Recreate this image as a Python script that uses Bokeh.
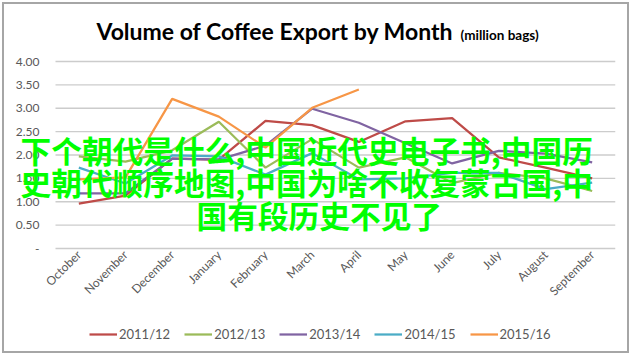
import math
from bokeh.plotting import figure
from bokeh.models import (Range1d, FixedTicker, CustomJSTickFormatter,
                          Label, Legend, LegendItem)
from bokeh.embed import file_html
from bokeh.resources import INLINE

months = ["October", "November", "December", "January", "February", "March",
          "April", "May", "June", "July", "August", "September"]
y_ticks = [0, 0.5, 1.0, 1.5, 2.0, 2.5, 3.0, 3.5, 4.0]

series_names = ["2011/12", "2012/13", "2013/14", "2014/15", "2015/16"]
s_2011_12 = [0.96, 1.13, 1.92, 1.90, 2.73, 2.64, 2.28, 2.72, 2.79, 1.95, 1.73, 1.50]
s_2012_13 = [1.97, 1.86, 2.10, 2.71, 1.73, 2.34, 1.73, 1.95, 1.40, 1.62, 1.50, 1.23]
s_2013_14 = [1.18, 1.18, 1.92, 1.90, 2.20, 2.99, 2.69, 2.25, 1.82, 2.09, 2.03, 1.84]
s_2014_15 = [1.73, 1.39, 1.99, 1.97, 1.58, 2.04, 1.48, 1.50, 1.62, 1.62, 1.27, 1.41]
s_2015_16 = [1.48, 1.52, 3.20, 2.82, 2.16, 3.01, 3.40]
series_values = [s_2011_12, s_2012_13, s_2013_14, s_2014_15, s_2015_16]
colors = ["#BE4B48", "#9BBB59", "#8064A2", "#4BACC6", "#F79646"]

title_main = "Volume of Coffee Export by Month"
title_sub = "(million bags)"
overlay_lines = ["下个朝代是什么,中国近代史电子书,中国历",
                 "史朝代顺序地图,中国为啥不收复蒙古国,中",
                 "国有段历史不见了"]

# ---- layout (page pixels) ----
OFF = 4                      # canvas origin inside the page (margin + border)
W, H = 627, 351
FL, FR, FT, FB = 18, 615, 8, 347   # plot frame edges (frame holds title & legend too)
CAT_L = 55                   # left edge of the category area
Y_ZERO_PX, Y_TOP_PX = 248, 61

n_cat = len(months)
px_per_cat = (FR - CAT_L) / n_cat
px_per_unit = (Y_ZERO_PX - Y_TOP_PX) / y_ticks[-1]

p = figure(width=W, height=H,
           x_range=Range1d(-(CAT_L - FL) / px_per_cat, n_cat),
           y_range=Range1d(-(FB - Y_ZERO_PX) / px_per_unit, (Y_ZERO_PX - FT) / px_per_unit),
           output_backend="svg", toolbar_location=None,
           min_border_left=FL - OFF, min_border_right=W - (FR - OFF),
           min_border_top=FT - OFF, min_border_bottom=H - (FB - OFF))
p.styles = {"margin-left": "2px", "margin-top": "2px", "border": "2px solid #a6a6a6"}
p.outline_line_color = None
p.background_fill_color = "white"
p.border_fill_color = "white"
p.xgrid.grid_line_color = None
p.ygrid.grid_line_color = None

# y axis (labels pulled into the frame by a negative standoff)
p.yaxis.ticker = FixedTicker(ticks=y_ticks)
p.yaxis.formatter = CustomJSTickFormatter(code="return tick == 0 ? '-' : tick.toFixed(2);")
p.yaxis.axis_line_color = None
p.yaxis.major_tick_line_color = None
p.yaxis.minor_tick_line_color = None
p.yaxis.major_tick_out = 0
p.yaxis.major_tick_in = 0
p.yaxis.major_label_standoff = -21
p.yaxis.major_label_text_font = "Lato"
p.yaxis.major_label_text_font_size = "12px"
p.yaxis.major_label_text_color = "#595959"

# x axis with month names at category centres, labels pulled up under the zero line
cat_centres = [i + 0.5 for i in range(n_cat)]
p.xaxis.ticker = FixedTicker(ticks=cat_centres)
p.xaxis.formatter = CustomJSTickFormatter(args=dict(labels=months),
                                          code="return labels[Math.floor(tick)] || '';")
p.xaxis.axis_line_color = None
p.xaxis.major_tick_line_color = None
p.xaxis.minor_tick_line_color = None
p.xaxis.major_tick_out = 0
p.xaxis.major_tick_in = 0
p.xaxis.major_label_orientation = math.pi / 4
p.xaxis.major_label_standoff = Y_ZERO_PX + 4 - FB
p.xaxis.major_label_text_font = "Lato"
p.xaxis.major_label_text_font_size = "12px"
p.xaxis.major_label_text_color = "#595959"
p.xaxis.axis_label = " "
p.xaxis.axis_label_standoff = 25
p.xaxis.axis_label_text_font_size = "12px"

# horizontal gridlines over the category area only
p.segment(x0=[0] * len(y_ticks), x1=[n_cat] * len(y_ticks), y0=y_ticks, y1=y_ticks,
          line_color="#cccccc", line_width=1.3)

items = []
for name, vals, col in zip(series_names, series_values, colors):
    r = p.line(cat_centres[:len(vals)], vals, line_color=col, line_width=2.25)
    items.append(LegendItem(label=name, renderers=[r]))

legend = Legend(items=items, orientation="horizontal", location=(89 - FL, FB - 344),
                glyph_width=28, glyph_height=20, label_standoff=2, spacing=14,
                padding=0, margin=0, border_line_color=None, background_fill_alpha=0,
                label_text_font="Lato", label_text_font_size="13px",
                label_text_color="#595959")
p.add_layout(legend)

def canvas_label(text, x, y, **kw):
    return Label(x=x - OFF, y=y - OFF, x_units="canvas", y_units="canvas",
                 text=text, text_baseline="alphabetic", text_align="left", **kw)

p.add_layout(canvas_label(title_main, 94, 28, text_font="Lato", text_font_style="bold",
                          text_font_size="23px", text_color="#000000"))
p.add_layout(canvas_label(title_sub, 458, 32, text_font="Lato", text_font_style="bold",
                          text_font_size="13.5px", text_color="#000000"))

for txt, lx, base in zip(overlay_lines, [18, 18, 194], [146.5, 178.5, 212]):
    p.add_layout(canvas_label(txt, lx, base, text_font="Noto Sans CJK SC",
                              text_font_style="bold", text_font_size="30.7px",
                              text_color="#00FF00"))

open("out.html", "w").write(file_html(p, INLINE))
